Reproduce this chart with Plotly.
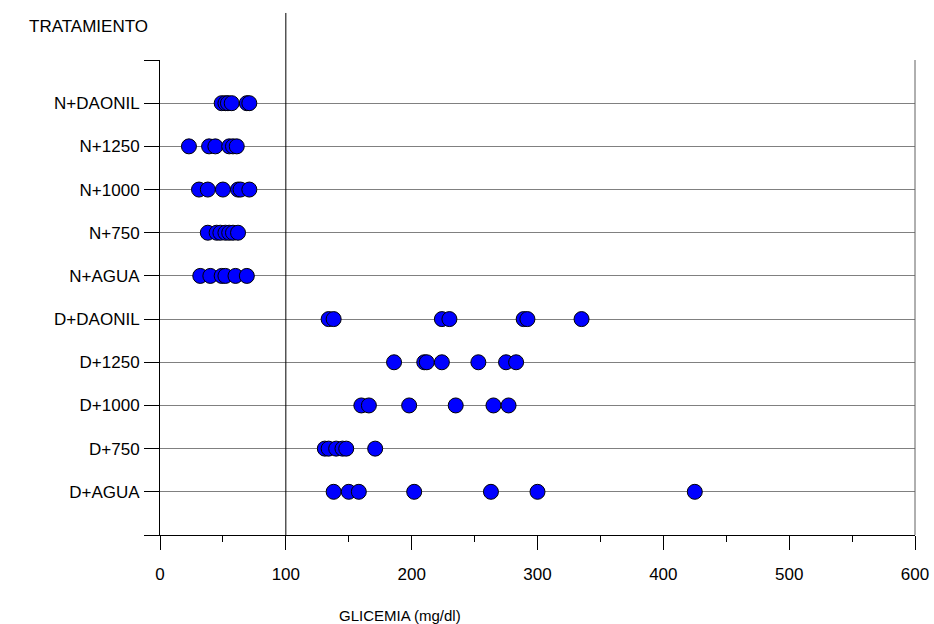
import plotly.graph_objects as go

# Treatment groups, bottom to top
tratamientos = ["D+AGUA", "D+750", "D+1000", "D+1250", "D+DAONIL",
                "N+AGUA", "N+750", "N+1000", "N+1250", "N+DAONIL"]

# Blood glucose readings (mg/dl) per treatment
d_agua = [138, 150, 158, 202, 263, 300, 425]
d_750 = [131, 134, 140, 145, 148, 171]
d_1000 = [160, 166, 198, 235, 265, 277]
d_1250 = [186, 210, 212, 224, 253, 275, 283]
d_daonil = [134, 138, 224, 230, 289, 292, 335]
n_agua = [32, 40, 49, 52, 60, 69]
n_750 = [38, 45, 48, 52, 55, 58, 62]
n_1000 = [31, 38, 50, 62, 64, 71]
n_1250 = [23, 39, 44, 55, 58, 61]
n_daonil = [49, 52, 54, 57, 69, 71]

grupos = [d_agua, d_750, d_1000, d_1250, d_daonil,
          n_agua, n_750, n_1000, n_1250, n_daonil]

x_ticks = [0, 100, 200, 300, 400, 500, 600]
umbral = 100

FONT = "Liberation Sans, Arial, sans-serif"

xs, ys = [], []
for pos, valores in enumerate(grupos, start=1):
    xs.extend(valores)
    ys.extend([pos] * len(valores))

fig = go.Figure()
fig.add_trace(go.Scatter(
    x=xs, y=ys, mode="markers",
    marker=dict(size=15, color="#0000FF", line=dict(color="black", width=1)),
    showlegend=False, hoverinfo="x+y",
))

fig.update_layout(
    width=934, height=624,
    margin=dict(l=160, r=19, t=60, b=89, autoexpand=False),
    paper_bgcolor="white", plot_bgcolor="white",
    font=dict(family=FONT, size=17, color="black"),
    xaxis=dict(
        range=[0, 600], tickvals=x_ticks, ticks="outside", ticklen=14,
        tickcolor="black", showline=True, linecolor="black", linewidth=1,
        showgrid=False, zeroline=False, ticklabelstandoff=10, automargin=False,
        minor=dict(ticks="outside", ticklen=6, dtick=50, tickcolor="black", showgrid=False),
        tickfont=dict(size=17),
    ),
    yaxis=dict(
        range=[0, 11], tickvals=list(range(0, 12)),
        ticktext=[""] + tratamientos + [""],
        ticks="outside", ticklen=15, tickcolor="black",
        showline=True, linecolor="black", linewidth=1,
        showgrid=True, gridcolor="#808080", gridwidth=1, zeroline=False,
        ticklabelstandoff=1, automargin=False,
    ),
)

# Frame: right border
fig.add_shape(type="line", xref="paper", yref="paper", x0=1, x1=1, y0=0, y1=1,
              line=dict(color="#606060", width=1))
# Reference line at 100 mg/dl, extending above the plot
fig.add_shape(type="line", xref="x", yref="paper", x0=umbral, x1=umbral, y0=0, y1=1.099,
              line=dict(color="black", width=1))

fig.add_annotation(text="TRATAMIENTO", xref="paper", yref="paper", x=-0.176, y=1.0695,
                   xanchor="left", yanchor="middle", showarrow=False,
                   font=dict(size=17))
fig.add_annotation(text="GLICEMIA (mg/dl)", xref="x", yref="paper", x=191, y=-0.1705,
                   xanchor="center", yanchor="middle", showarrow=False,
                   font=dict(size=15))

fig.write_html("out.html")
